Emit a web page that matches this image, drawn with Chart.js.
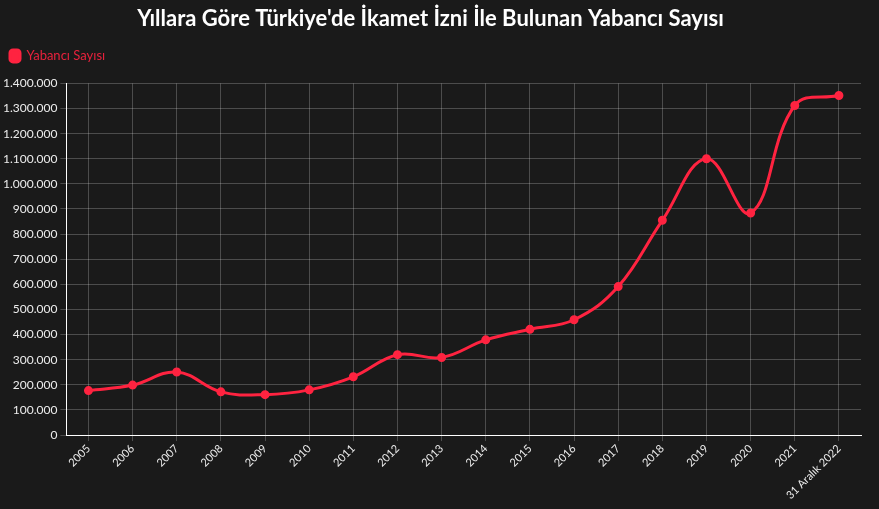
<!DOCTYPE html>
<html lang="tr">
<head>
<meta charset="utf-8">
<title>Yabancı Sayısı</title>
<script src="https://cdn.jsdelivr.net/npm/chart.js@4.4.0/dist/chart.umd.min.js"></script>
<style>
  html, body { margin: 0; padding: 0; background: #1a1a1a; }
  #wrap { width: 879px; height: 509px; }
</style>
</head>
<body>
<div id="wrap"><canvas id="yabanciChart"></canvas></div>
<script>
// Years (last one is the 31 December 2022 snapshot)
const years = ['2005', '2006', '2007', '2008', '2009', '2010', '2011', '2012', '2013',
  '2014', '2015', '2016', '2017', '2018', '2019', '2020', '2021', '31 Aralık 2022'];

// Foreigners with residence permit
const foreignerCounts = [177000, 199000, 251000, 172000, 161000, 180000, 232000, 320000, 309000,
  379000, 421000, 459000, 591000, 855000, 1100000, 884000, 1312000, 1352000];

const seriesLabel = 'Yabancı Sayısı';
const chartTitle = "Yıllara Göre Türkiye'de İkamet İzni İle Bulunan Yabancı Sayısı";

// 1.400.000 style grouping
function formatDots(v) {
    return String(v).replace(/\B(?=(\d{3})+(?!\d))/g, '.');
}

// Leave some extra room under the legend before the plot starts
const legendGap = {
    id: 'legendGap',
    beforeInit(chart) {
        const fit = chart.legend.fit;
        chart.legend.fit = function () {
            fit.call(this);
            this.height += 11;
        };
    }
};

function createChart() {
    const ctx = document.getElementById('yabanciChart').getContext('2d');
    const red = '#ff2340';

    new Chart(ctx, {
        type: 'line',
        data: {
            labels: years,
            datasets: [{
                label: seriesLabel,
                data: foreignerCounts,
                borderColor: red,
                backgroundColor: red,
                borderWidth: 3,
                borderRadius: 3,
                pointRadius: 3,
                pointHoverRadius: 5,
                tension: 0.4,
                fill: false
            }]
        },
        plugins: [legendGap],
        options: {
            responsive: true,
            maintainAspectRatio: false,
            animation: false,
            layout: { padding: { left: 0, right: 18, top: 0, bottom: 6 } },
            plugins: {
                title: {
                    display: true,
                    text: chartTitle,
                    color: '#ffffff',
                    font: { family: 'Lato', size: 22, weight: 'bold' },
                    padding: { top: 6, bottom: 7 }
                },
                legend: {
                    align: 'start',
                    labels: {
                        color: '#e8213c',
                        boxWidth: 10,
                        boxHeight: 12,
                        useBorderRadius: true,
                        borderRadius: 3,
                        padding: 10,
                        font: { family: 'Lato', size: 13 }
                    }
                },
                tooltip: { enabled: true }
            },
            scales: {
                x: {
                    offset: true,
                    grid: { color: 'rgba(255,255,255,0.22)', offset: false, tickLength: 6 },
                    border: { color: '#ffffff' },
                    ticks: {
                        color: '#ececec',
                        padding: 1,
                        maxRotation: 45,
                        minRotation: 45,
                        font: { family: 'Lato', size: 11 }
                    }
                },
                y: {
                    min: 0,
                    max: 1400000,
                    grid: { color: 'rgba(255,255,255,0.22)', tickLength: 6 },
                    border: { color: '#ffffff' },
                    ticks: {
                        stepSize: 100000,
                        color: '#ececec',
                        font: { family: 'Lato', size: 12 },
                        callback: (v) => formatDots(v)
                    }
                }
            }
        }
    });
}

document.addEventListener('DOMContentLoaded', createChart);
</script>
</body>
</html>
